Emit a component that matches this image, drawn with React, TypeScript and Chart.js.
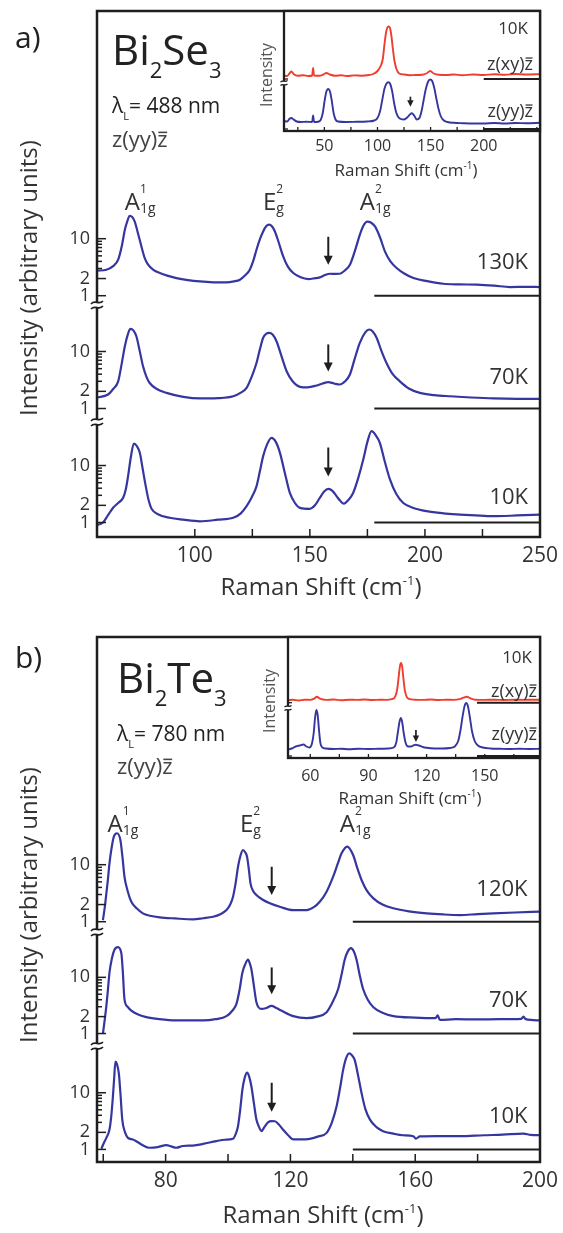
import React, { useEffect, useRef } from 'react';
import { Chart, registerables } from 'chart.js';

Chart.register(...registerables);

type Pt = [number, number];

const FONT = '"Open Sans", "Noto Sans", "DejaVu Sans", sans-serif';
const BLUE = '#3636a0';
const RED = '#ef3d2e';
const INK = '#1e1e1e';
const GREY = '#333333';

// ---------- shared tick values ----------
const logTicks = [1, 2, 3, 4, 5, 6, 7, 8, 9, 10];
const logLabels = [1, 2, 10];

// ---------- panel a : Bi2Se3 ----------
const seXTicks = [100, 125, 150, 175, 200, 225, 250];
const seXLabels = [100, 150, 200, 250];
const seTemps = ['130K', '70K', '10K'];
const seBase = [178, 250];
const seArrowX = 158;
const seArrows: Pt[] = [[10.8, 3.5], [13.3, 4.46], [20.7, 6.4]];
const seTempY = [3.75, 3.43, 2.69];
const sePeakX = [69.6, 129.6, 171.7];

const se130: Pt[] = [
  [57.5, 2.75], [61.6, 2.86], [64.5, 3.3], [66.7, 4.28], [68.3, 7.5], [69.6, 14.4], [70.8, 21], [71.7, 25.3],
  [72.8, 24], [73.9, 20], [75.3, 12.5], [76.8, 7.3], [78.2, 4.6], [79.7, 3.5], [82, 2.85], [84.8, 2.5],
  [88, 2.25], [92, 2.04], [97, 1.88], [102.2, 1.78], [108, 1.72], [113.8, 1.71], [117, 1.78], [119.6, 1.91],
  [122, 2.3], [123.9, 2.86], [125.5, 4.2], [126.8, 6.4], [128.3, 9.8], [129.7, 13.4], [131, 16.5], [132.3, 17.6],
  [133.5, 16.5], [134.8, 13.4], [136.5, 8.5], [138.4, 4.9], [140.5, 3.2], [142.8, 2.5], [146, 2.1], [149.3, 1.96],
  [152, 2.02], [154.3, 2.1], [156.5, 2.3], [158.7, 2.43], [161, 2.42], [163, 2.43], [165.3, 2.8], [167.4, 3.5],
  [169.5, 6], [171.7, 11.7], [173.3, 17], [174.9, 20], [176.5, 19.2], [178.3, 16.4], [180.5, 10.5], [182.6, 6],
  [185, 4], [187.7, 3.06], [191, 2.45], [195, 2.04], [201, 1.8], [208, 1.62], [215, 1.58], [222.5, 1.56],
  [230, 1.5], [237, 1.42], [244, 1.43], [250, 1.42],
];
const se70: Pt[] = [
  [57.5, 1.55], [62.3, 1.76], [64.5, 2.2], [66.7, 3.0], [68.2, 6], [69.6, 12.4], [70.9, 20], [72, 25],
  [73.3, 23.5], [74.6, 18.5], [76, 10.5], [77.5, 5.5], [79, 3.6], [80.4, 2.8], [83.5, 2.2], [87.7, 1.88],
  [95, 1.6], [102.2, 1.5], [110, 1.52], [116.7, 1.64], [120, 1.9], [122.5, 2.3], [124.7, 3.6], [126.8, 6.3],
  [128.3, 11], [129.7, 17.4], [131, 20.5], [132.3, 21.3], [133.8, 19.8], [135.5, 15.1], [137.7, 8.2], [139.9, 4.5],
  [142.5, 3.0], [145.7, 2.4], [149, 2.35], [152.9, 2.53], [155.5, 2.75], [158, 2.9], [160.5, 2.75], [163, 2.64],
  [165.3, 3.0], [167.4, 3.95], [169.5, 7.5], [171.7, 14.2], [174, 21.5], [175.8, 24.3], [177.3, 22.5], [179, 17.4],
  [181, 10.5], [183.3, 6.3], [186, 4.0], [189.1, 3.0], [193, 2.25], [197.8, 1.88], [204, 1.72], [210.9, 1.64],
  [220, 1.56], [229.7, 1.5], [240, 1.48], [250, 1.48],
];
const se10: Pt[] = [
  [57.5, 0.9], [60.1, 1.0], [62.3, 1.35], [64.5, 1.81], [66.7, 2.2], [68.8, 2.7], [70, 3.8], [71, 6.5],
  [72.2, 14], [73.5, 24.3], [74.8, 22], [76.1, 16.7], [77.4, 8.5], [78.7, 4.3], [80, 2.4], [81.2, 1.74],
  [84, 1.4], [89.1, 1.21], [95, 1.12], [102.2, 1.05], [110, 1.12], [116.7, 1.21], [120, 1.45], [122.5, 1.93],
  [124.8, 2.8], [126.8, 4.3], [128.3, 8], [129.7, 14.6], [131.5, 24], [133.3, 30.6], [135.2, 26], [137, 16.7],
  [139.2, 7.2], [141.3, 3.3], [143.5, 2.2], [145.7, 1.81], [150, 1.74], [152.2, 2.0], [154.3, 2.7], [156.2, 3.5],
  [158, 3.9], [159.8, 3.6], [161.6, 2.9], [163.2, 2.4], [164.8, 2.15], [166.8, 2.5], [168.8, 3.3], [171, 6],
  [173.2, 12.7], [175, 26], [176.8, 40], [178.6, 34], [180.4, 25], [182.6, 11.5], [184.8, 5.7], [187.5, 3.2],
  [190.6, 2.2], [195, 1.8], [200.7, 1.58], [208, 1.45], [215.2, 1.38], [222, 1.33], [229.7, 1.29], [240, 1.33],
  [250, 1.38],
];

// ---------- panel b : Bi2Te3 ----------
const teXTicks = [60, 80, 100, 120, 140, 160, 180, 200];
const teXLabels = [80, 120, 160, 200];
const teTemps = ['120K', '70K', '10K'];
const teBase = [140, 200];
const teArrowX = 114;
const teArrows: Pt[] = [[9.2, 2.94], [15, 5.0], [15, 4.6]];
const teTempY = [3.6, 3.84, 3.84];
const tePeakX = [61.4, 103.8, 135.8];

const te120: Pt[] = [
  [59.9, 1.07], [60.5, 1.8], [61, 3.15], [61.5, 5.5], [62, 10.6], [62.7, 20], [63.4, 31], [64.4, 35.6],
  [65.5, 27], [66.2, 13], [66.8, 6.2], [67.8, 3.5], [69, 2.24], [70.8, 1.7], [72.7, 1.4], [75, 1.27],
  [78.1, 1.19], [83, 1.14], [88.8, 1.1], [92, 1.15], [95.2, 1.22], [97.5, 1.35], [99.5, 1.6], [100.7, 2.0],
  [101.6, 2.75], [102.5, 5], [103.2, 9.2], [104, 14.5], [104.8, 18.1], [105.5, 16.5], [106.1, 13.8], [106.7, 8],
  [107.2, 4.7], [108, 3.5], [109.1, 2.94], [111, 2.45], [113.4, 2.1], [116.6, 1.83], [120.9, 1.6], [125.2, 1.6],
  [127.5, 1.8], [129.4, 2.24], [131.5, 3.3], [133.7, 6.2], [135.2, 10.5], [136.4, 15.8], [138.2, 20.8], [140.1, 14.8],
  [141.5, 8.5], [142.8, 5.4], [144.5, 3.5], [146.6, 2.57], [149.5, 2.0], [153, 1.72], [158, 1.52], [163.7, 1.4],
  [169, 1.34], [174.3, 1.31], [180, 1.36], [185, 1.4], [192, 1.45], [200, 1.5],
];
const te70: Pt[] = [
  [59.9, 1.0], [60.5, 1.8], [61, 3.1], [61.5, 6], [62, 12.1], [62.8, 22], [63.6, 31], [64.7, 34.6],
  [65.8, 27], [66.3, 12], [66.8, 4.1], [67.8, 3.0], [69, 2.56], [71, 2.2], [73.8, 1.96], [78, 1.8],
  [83.4, 1.71], [92, 1.71], [96, 1.8], [99.5, 2.04], [101.5, 2.6], [102.7, 3.36], [103.7, 6], [104.6, 12.1],
  [105.5, 17], [106.4, 20.6], [107, 17.5], [107.5, 13.8], [108.3, 7], [109.1, 3.6], [110.7, 2.74], [112.3, 2.85],
  [113.9, 3.1], [115.5, 2.85], [117.1, 2.56], [120.9, 2.04], [125.2, 1.88], [128.5, 2.0], [131.6, 2.4], [133.5, 3.6],
  [135.3, 6.2], [136.5, 12], [137.4, 20.6], [138.4, 29], [139.4, 33], [140.3, 29], [141.2, 20.6], [142.2, 11],
  [143.3, 6.2], [144.8, 4], [146.6, 2.94], [149.5, 2.35], [153, 2.04], [160, 1.92], [166.5, 1.88], [167.2, 2.1],
  [167.9, 1.75], [173, 1.8], [179.7, 1.78], [187, 1.8], [194, 1.83], [194.7, 2.0], [195.4, 1.8], [200, 1.71],
];
const te10: Pt[] = [
  [59.4, 1.03], [60.2, 1.3], [61, 1.6], [62, 2.24], [62.6, 4], [63.1, 8.6], [63.5, 18], [63.9, 35.5],
  [64.4, 32], [65, 22], [65.5, 10], [66.1, 3.36], [67, 2.0], [67.9, 1.6], [69.5, 1.5], [71, 1.35],
  [72.5, 1.2], [74.8, 1.07], [77.5, 1.1], [80.2, 1.19], [82, 1.12], [83.4, 1.07], [85.5, 1.15], [88.7, 1.17],
  [92, 1.25], [96.2, 1.4], [99, 1.48], [101.6, 1.54], [102.5, 1.9], [103.2, 2.56], [103.9, 5], [104.6, 11.3],
  [105.3, 18], [106.1, 22.6], [106.8, 19], [107.5, 12.9], [108.3, 6.5], [109.1, 3.36], [110, 2.45], [110.7, 2.1],
  [111.7, 2.5], [112.8, 3.0], [114, 3.15], [115, 3.14], [116.3, 2.75], [117.6, 2.24], [119.2, 1.8], [120.9, 1.5],
  [123.5, 1.5], [126.2, 1.54], [129, 1.7], [131.6, 1.96], [133.3, 3], [134.8, 5.75], [135.9, 12], [136.9, 25.3],
  [137.8, 40], [138.8, 49.6], [139.7, 46], [140.6, 38], [141.7, 20], [142.8, 9.9], [144, 5.2], [145.5, 3.36],
  [147.5, 2.5], [149.7, 2.1], [153, 1.9], [156, 1.78], [159.4, 1.71], [160.2, 1.55], [161.5, 1.7], [167, 1.72],
  [174.3, 1.71], [182, 1.78], [188, 1.82], [194.7, 1.9], [197, 1.8], [200, 1.78],
];

// ---------- inset a (Bi2Se3, 10K) ----------
const inSeXTicks = [25, 50, 75, 100, 125, 150, 175, 200, 225, 250];
const inSeXLabels = [50, 100, 150, 200];
const inSeBase = [200, 253];
const inSeArrow = [131, 3.23, 2.23];
const inSeXY: Pt[] = [
  [12, 0.35], [15, 0.3], [17.5, 0.6], [19, 0.75], [21, 0.5], [25, 0.32], [30, 0.38], [35, 0.3],
  [38.5, 0.35], [39.4, 1.1], [40.3, 0.35], [45, 0.33], [49, 0.45], [52, 0.6], [55, 0.45], [60, 0.33],
  [66, 0.38], [71, 0.3], [78, 0.36], [85, 0.33], [92, 0.4], [96, 0.5], [100, 0.8], [103, 1.3],
  [105, 2.0], [106.5, 3.4], [108, 4.6], [109.3, 5.15], [110.5, 5.25], [111.8, 5.1], [113, 4.4], [114.5, 3.0],
  [116, 1.8], [118, 0.95], [120.5, 0.55], [125, 0.45], [130, 0.38], [136, 0.4], [142, 0.42], [146, 0.55],
  [149.7, 0.8], [153, 0.55], [158, 0.42], [165, 0.4], [172, 0.45], [180, 0.38], [190, 0.45], [200, 0.4],
  [210, 0.48], [220, 0.42], [230, 0.5], [240, 0.45], [253, 0.48],
];
const inSeYY: Pt[] = [
  [12, 0.8], [15, 0.75], [17, 1.0], [19, 1.1], [21, 0.95], [24, 0.75], [28, 0.7], [33, 0.72],
  [38.5, 0.7], [39.4, 1.35], [40.3, 0.7], [44, 0.72], [46.5, 0.9], [48.5, 1.6], [50.2, 2.8], [51.8, 3.7],
  [53.6, 4.0], [55.4, 3.7], [57, 2.8], [58.7, 1.6], [60.5, 0.95], [63, 0.75], [70, 0.7], [80, 0.72],
  [90, 0.75], [97, 0.85], [100, 1.1], [102.5, 1.8], [104.5, 2.9], [106.5, 4.0], [108.5, 4.55], [110.3, 4.67],
  [112, 4.5], [113.8, 3.8], [115.5, 2.7], [117.5, 1.7], [119.5, 1.2], [122, 1.0], [125, 0.95], [128, 1.15],
  [130.5, 1.45], [132.4, 1.57], [134.5, 1.35], [137, 0.95], [139.5, 1.1], [141.5, 1.8], [143.5, 2.9], [145.5, 4.0],
  [147.5, 4.7], [149.5, 4.95], [151.5, 4.8], [153.5, 4.1], [155.5, 3.0], [157.5, 2.0], [159.5, 1.3], [162, 0.9],
  [166, 0.7], [172, 0.62], [180, 0.58], [190, 0.55], [200, 0.55], [210, 0.6], [220, 0.55], [230, 0.6],
  [240, 0.58], [253, 0.62],
];

// ---------- inset b (Bi2Te3, 10K) ----------
const inTeXTicks = [60, 75, 90, 105, 120, 135, 150, 165];
const inTeXLabels = [60, 90, 120, 150];
const inTeBase = [146, 178.5];
const inTeArrow = [114.5, 2.6, 1.4];
const inTeXY: Pt[] = [
  [48.5, 0.25], [51, 0.3], [54, 0.22], [57, 0.3], [60, 0.28], [62, 0.4], [63.4, 0.6], [65, 0.4],
  [68, 0.28], [72, 0.32], [76, 0.25], [80, 0.3], [84, 0.28], [88, 0.32], [92, 0.27], [96, 0.3],
  [99, 0.28], [102, 0.35], [103.8, 0.6], [104.8, 1.3], [105.6, 2.6], [106.3, 3.7], [106.8, 3.97], [107.4, 3.6],
  [108, 2.5], [108.8, 1.2], [109.8, 0.55], [111, 0.38], [114, 0.3], [118, 0.28], [122, 0.32], [126, 0.27],
  [130, 0.3], [134, 0.28], [137, 0.35], [139, 0.5], [140.8, 0.6], [142.5, 0.45], [145, 0.3], [150, 0.28],
  [155, 0.3], [160, 0.27], [165, 0.3], [170, 0.28], [175, 0.3], [178.5, 0.28],
];
const inTeYY: Pt[] = [
  [48.5, 0.65], [50.5, 0.75], [52.5, 0.95], [54.5, 1.05], [56.5, 1.15], [58, 0.95], [59.5, 0.85], [60.8, 1.2],
  [61.7, 2.2], [62.4, 3.7], [63.1, 4.6], [63.8, 4.1], [64.5, 2.6], [65.2, 1.3], [66.2, 0.85], [68, 0.75],
  [72, 0.7], [76, 0.72], [80, 0.68], [85, 0.72], [90, 0.7], [95, 0.72], [100, 0.75], [103, 0.85],
  [104.3, 1.3], [105.2, 2.4], [106, 3.4], [106.7, 3.8], [107.4, 3.4], [108.2, 2.3], [109.2, 1.3], [110.5, 0.95],
  [112, 0.95], [113.5, 1.08], [114.5, 1.12], [116, 1.05], [118, 0.9], [120, 0.82], [124, 0.75], [128, 0.75],
  [132, 0.8], [134.5, 0.95], [136.3, 1.5], [137.5, 2.6], [138.6, 4.0], [139.6, 5.0], [140.4, 5.3], [141.3, 5.0],
  [142.3, 3.9], [143.4, 2.5], [144.8, 1.5], [146.5, 1.05], [149, 0.85], [153, 0.75], [158, 0.72], [163, 0.7],
  [168, 0.72], [173, 0.7], [178.5, 0.72],
];

// ---------- helpers ----------
const toXY = (d: Pt[]) => d.map(([x, y]) => ({ x, y }));

type Run = { t: string; s: number; dy?: number; bar?: boolean; stay?: boolean };

function drawRuns(ctx: CanvasRenderingContext2D, x: number, y: number, list: Run[], align: string = 'left') {
  const widths = list.map((r) => {
    ctx.font = `${r.s}px ${FONT}`;
    return r.stay ? 0 : ctx.measureText(r.t).width;
  });
  const total = widths.reduce((a, b) => a + b, 0);
  let cx = align === 'left' ? x : align === 'center' ? x - total / 2 : x - total;
  ctx.textAlign = 'left';
  ctx.textBaseline = 'alphabetic';
  list.forEach((r, i) => {
    ctx.font = `${r.s}px ${FONT}`;
    const yy = y + (r.dy || 0);
    ctx.fillText(r.t, cx, yy);
    if (r.bar) {
      const mw = ctx.measureText(r.t).width;
      ctx.fillRect(cx + 1, yy - r.s * 0.7, mw - 1.5, Math.max(1.2, r.s * 0.07));
    }
    cx += widths[i];
  });
}

function seg(ctx: CanvasRenderingContext2D, x1: number, y1: number, x2: number, y2: number) {
  ctx.beginPath();
  ctx.moveTo(x1, y1);
  ctx.lineTo(x2, y2);
  ctx.stroke();
}

function drawBreak(ctx: CanvasRenderingContext2D, x: number, y: number, half: number, gap: number, lw: number) {
  ctx.save();
  ctx.fillStyle = '#ffffff';
  ctx.fillRect(x - half, y - gap, half * 2, gap * 2);
  ctx.strokeStyle = INK;
  ctx.lineWidth = lw;
  [-gap, gap].forEach((off) => {
    ctx.beginPath();
    ctx.moveTo(x - half, y + off + half * 0.25);
    ctx.bezierCurveTo(x - half / 3, y + off - half * 0.55, x + half / 3, y + off + half * 0.55, x + half, y + off - half * 0.25);
    ctx.stroke();
  });
  ctx.restore();
}

function drawArrow(ctx: CanvasRenderingContext2D, x: number, yTop: number, yTip: number, hw: number, hl: number, lw: number) {
  ctx.save();
  ctx.strokeStyle = INK;
  ctx.fillStyle = INK;
  ctx.lineWidth = lw;
  seg(ctx, x, yTop, x, yTip - hl + 1);
  ctx.beginPath();
  ctx.moveTo(x - hw, yTip - hl);
  ctx.lineTo(x + hw, yTip - hl);
  ctx.lineTo(x, yTip);
  ctx.closePath();
  ctx.fill();
  ctx.restore();
}

const geometry = (s: number): Run[] => [{ t: 'z(yy)', s }, { t: 'z', s, bar: true }];

// ---------- main panel ----------
function mainDeco(s: any) {
  return {
    id: 'mainDeco',
    afterDraw(chart: any) {
      const { ctx, chartArea: ca, scales } = chart;
      const xs = scales.x;
      ctx.save();
      ctx.strokeStyle = INK;
      ctx.lineWidth = 1.5;
      xs.ticks.forEach((t: any) => {
        const px = xs.getPixelForValue(t.value);
        seg(ctx, px, ca.bottom, px, ca.bottom - 8);
      });
      s.series.forEach((_: any, i: number) => {
        const ys = scales['y' + i];
        ys.ticks.forEach((t: any) => {
          const py = ys.getPixelForValue(t.value);
          const major = logLabels.includes(t.value);
          seg(ctx, ca.left, py, ca.left + (major ? 9 : 5), py);
        });
      });
      ctx.lineWidth = 2.5;
      ctx.strokeRect(ca.left, ca.top, ca.right - ca.left, ca.bottom - ca.top);
      s.series.forEach((_: any, i: number) => {
        if (i > 0) drawBreak(ctx, ca.left, scales['y' + i].top, 6, 2.6, 1.6);
      });
      s.arrows.forEach(([top, tip]: Pt, i: number) => {
        const ys = scales['y' + i];
        drawArrow(ctx, xs.getPixelForValue(s.arrowX), ys.getPixelForValue(top), ys.getPixelForValue(tip), 4.5, 9, 2);
      });
      ctx.fillStyle = GREY;
      ctx.font = `22px ${FONT}`;
      ctx.textAlign = 'right';
      ctx.textBaseline = 'middle';
      s.temps.forEach((t: string, i: number) => {
        ctx.fillText(t, xs.getPixelForValue(s.tempX), scales['y' + i].getPixelForValue(s.tempY[i]));
      });
      const pb = ca.top + s.peakBase;
      const peakRuns: Run[][] = [
        [{ t: 'A', s: 24 }, { t: '1', s: 12, dy: -17, stay: true }, { t: '1g', s: 14, dy: 3 }],
        [{ t: 'E', s: 24 }, { t: '2', s: 12, dy: -17, stay: true }, { t: 'g', s: 14, dy: 3 }],
        [{ t: 'A', s: 24 }, { t: '2', s: 12, dy: -17, stay: true }, { t: '1g', s: 14, dy: 3 }],
      ];
      peakRuns.forEach((r, i) => drawRuns(ctx, xs.getPixelForValue(s.peakX[i]), pb, r));
      ctx.fillStyle = '#222222';
      ctx.font = `30px ${FONT}`;
      ctx.textAlign = 'left';
      ctx.textBaseline = 'alphabetic';
      ctx.fillText(s.tag, s.tagPos[0], s.tagPos[1]);
      drawRuns(ctx, s.cmpPos[0], s.cmpPos[1], [
        { t: 'Bi', s: 42 }, { t: '2', s: 22, dy: 13 }, { t: s.cmp, s: 42 }, { t: '3', s: 22, dy: 13 },
      ]);
      drawRuns(ctx, s.laserPos[0], s.laserPos[1], [{ t: 'λ', s: 21 }, { t: 'L', s: 11, dy: 7 }, { t: s.laser, s: 21 }]);
      ctx.fillStyle = '#444444';
      drawRuns(ctx, s.geomPos[0], s.geomPos[1], geometry(22));
      ctx.fillStyle = GREY;
      drawRuns(ctx, s.xTitle[0], s.xTitle[1], [
        { t: 'Raman Shift (cm', s: 24 }, { t: '-1', s: 13, dy: -10 }, { t: ')', s: 24 },
      ], 'center');
      ctx.save();
      ctx.translate(s.yTitle[0], s.yTitle[1]);
      ctx.rotate(-Math.PI / 2);
      ctx.font = `24px ${FONT}`;
      ctx.textAlign = 'center';
      ctx.textBaseline = 'middle';
      ctx.fillText('Intensity (arbitrary units)', 0, 0);
      ctx.restore();
      ctx.restore();
    },
  };
}

function buildMain(s: any) {
  const scales: any = {
    x: {
      type: 'linear', position: 'bottom', min: s.xMin, max: s.xMax,
      grid: { display: false, drawTicks: false }, border: { display: false },
      afterBuildTicks: (sc: any) => { sc.ticks = s.xTicks.map((v: number) => ({ value: v })); },
      ticks: {
        autoSkip: false, maxRotation: 0, padding: 6, color: GREY, font: { family: FONT, size: 21 },
        callback: (v: number) => (s.xLabels.includes(v) ? String(v) : ''),
      },
      afterFit: (sc: any) => { sc.height = s.xHeight; sc.paddingLeft = 0; sc.paddingRight = 0; },
    },
  };
  const datasets: any[] = [];
  // stacked left axes are laid out last-defined on top, so define bottom panel first
  for (let i = s.series.length - 1; i >= 0; i--) {
    scales['y' + i] = {
      type: 'logarithmic', position: 'left', stack: 'spectra', stackWeight: s.weights[i],
      min: s.mins[i], max: s.maxs[i],
      grid: { display: false, drawTicks: false }, border: { display: false },
      afterBuildTicks: (sc: any) => { sc.ticks = logTicks.map((v) => ({ value: v })); },
      ticks: {
        autoSkip: false, padding: 7, color: GREY, font: { family: FONT, size: 18 },
        callback: (v: number) => (logLabels.includes(v) ? String(v) : ''),
      },
      afterFit: (sc: any) => { sc.width = 97; sc.paddingTop = 0; sc.paddingBottom = 0; },
    };
  }
  s.series.forEach((d: Pt[], i: number) => {
    const id = 'y' + i;
    datasets.push({
      data: toXY(d), yAxisID: id, xAxisID: 'x', borderColor: BLUE, borderWidth: 2.2,
      pointRadius: 0, cubicInterpolationMode: 'monotone', fill: false, clip: false,
    });
    datasets.push({
      data: s.base.map((x: number) => ({ x, y: 1 })), yAxisID: id, xAxisID: 'x',
      borderColor: INK, borderWidth: 2, pointRadius: 0, fill: false, clip: false,
    });
  });
  return {
    type: 'line',
    data: { datasets },
    options: {
      responsive: false, animation: false, devicePixelRatio: 1, events: [],
      layout: { padding: { left: 0, top: s.padTop, right: 23, bottom: 0 } },
      plugins: { legend: { display: false }, tooltip: { enabled: false }, title: { display: false } },
      scales,
    },
    plugins: [mainDeco(s)],
  };
}

// ---------- inset ----------
function insetDeco(s: any) {
  return {
    id: 'insetDeco',
    beforeDraw(chart: any) {
      const { ctx, chartArea: ca } = chart;
      ctx.save();
      ctx.fillStyle = '#ffffff';
      ctx.fillRect(ca.left, ca.top, ca.right - ca.left, ca.bottom - ca.top);
      ctx.restore();
    },
    afterDraw(chart: any) {
      const { ctx, chartArea: ca, scales } = chart;
      const xs = scales.x;
      ctx.save();
      ctx.strokeStyle = INK;
      ctx.lineWidth = 1.3;
      xs.ticks.forEach((t: any) => {
        const px = xs.getPixelForValue(t.value);
        seg(ctx, px, ca.bottom, px, ca.bottom - 4);
      });
      ['y0', 'y1'].forEach((id) => {
        const py = scales[id].getPixelForValue(0);
        seg(ctx, ca.left, py, ca.left + 4, py);
      });
      ctx.lineWidth = 2.3;
      ctx.strokeRect(ca.left, ca.top, ca.right - ca.left, ca.bottom - ca.top);
      drawBreak(ctx, ca.left, scales.y1.top, 3.5, 1.8, 1.2);
      const [ax, aTop, aTip] = s.arrow;
      drawArrow(ctx, xs.getPixelForValue(ax), scales.y1.getPixelForValue(aTop), scales.y1.getPixelForValue(aTip), 3.2, 6.5, 1.7);
      ctx.fillStyle = GREY;
      ctx.font = `17px ${FONT}`;
      ctx.textAlign = 'right';
      ctx.textBaseline = 'middle';
      ctx.fillText('10K', s.kPos[0], s.kPos[1]);
      drawRuns(ctx, s.xyPos[0], s.xyPos[1], [{ t: 'z(xy)', s: 18 }, { t: 'z', s: 18, bar: true }], 'right');
      drawRuns(ctx, s.yyPos[0], s.yyPos[1], geometry(18), 'right');
      drawRuns(ctx, s.title[0], s.title[1], [
        { t: 'Raman Shift (cm', s: 17 }, { t: '-1', s: 10, dy: -7 }, { t: ')', s: 17 },
      ], 'center');
      ctx.save();
      ctx.fillStyle = '#555555';
      ctx.translate(s.intPos[0], s.intPos[1]);
      ctx.rotate(-Math.PI / 2);
      ctx.font = `16px ${FONT}`;
      ctx.textAlign = 'center';
      ctx.textBaseline = 'middle';
      ctx.fillText('Intensity', 0, 0);
      ctx.restore();
      ctx.restore();
    },
  };
}

function buildInset(s: any) {
  const yAxis = (i: number) => ({
    type: 'linear', position: 'left', stack: 'inset', stackWeight: s.weights[i],
    min: s.mins[i], max: s.maxs[i],
    grid: { display: false, drawTicks: false }, border: { display: false },
    afterBuildTicks: (sc: any) => { sc.ticks = [{ value: 0 }]; },
    ticks: { display: false },
    afterFit: (sc: any) => { sc.width = s.yWidth; sc.paddingTop = 0; sc.paddingBottom = 0; },
  });
  const line = (d: any[], id: string, color: string, w: number, smooth: boolean) => ({
    data: d, yAxisID: id, xAxisID: 'x', borderColor: color, borderWidth: w, pointRadius: 0,
    cubicInterpolationMode: smooth ? 'monotone' : 'default', fill: false, clip: false,
  });
  const base = s.base.map((x: number) => ({ x, y: 0 }));
  return {
    type: 'line',
    data: {
      datasets: [
        line(toXY(s.xy), 'y0', RED, 1.9, true),
        line(toXY(s.yy), 'y1', BLUE, 1.9, true),
        line(base, 'y0', INK, 2, false),
        line(base, 'y1', INK, 2, false),
      ],
    },
    options: {
      responsive: false, animation: false, devicePixelRatio: 1, events: [],
      layout: { padding: { left: 0, top: s.padTop, right: 23, bottom: 0 } },
      plugins: { legend: { display: false }, tooltip: { enabled: false }, title: { display: false } },
      scales: {
        x: {
          type: 'linear', position: 'bottom', min: s.xMin, max: s.xMax,
          grid: { display: false, drawTicks: false }, border: { display: false },
          afterBuildTicks: (sc: any) => { sc.ticks = s.xTicks.map((v: number) => ({ value: v })); },
          ticks: {
            autoSkip: false, maxRotation: 0, padding: s.xPad, color: GREY, font: { family: FONT, size: 16 },
            callback: (v: number) => (s.xLabels.includes(v) ? String(v) : ''),
          },
          afterFit: (sc: any) => { sc.height = s.xHeight; sc.paddingLeft = 0; sc.paddingRight = 0; },
        },
        // bottom panel defined first so that y0 (xy) ends up on top
        y1: yAxis(1),
        y0: yAxis(0),
      },
    },
    plugins: [insetDeco(s)],
  };
}

// ---------- specs (layout only) ----------
const specA = {
  padTop: 11, xHeight: 73, xMin: 57.5, xMax: 250, xTicks: seXTicks, xLabels: seXLabels,
  series: [se130, se70, se10], weights: [294, 117, 115], mins: [0.687, 0.58, 0.557], maxs: [98800, 65.4, 58],
  base: seBase, arrowX: seArrowX, arrows: seArrows, temps: seTemps, tempX: 244.8, tempY: seTempY,
  peakX: sePeakX, peakBase: 199, tag: 'a)', tagPos: [15, 48], cmp: 'Se', cmpPos: [112, 65],
  laser: '= 488 nm', laserPos: [112, 113], geomPos: [112, 147], xTitle: [321, 595], yTitle: [30, 278],
};
const specB = {
  padTop: 17, xHeight: 71, xMin: 58, xMax: 200, xTicks: teXTicks, xLabels: teXLabels,
  series: [te120, te70, te10], weights: [295, 114, 116], mins: [0.66, 0.641, 0.616], maxs: [98600, 64.1, 66.8],
  base: teBase, arrowX: teArrowX, arrows: teArrows, temps: teTemps, tempX: 196, tempY: teTempY,
  peakX: tePeakX, peakBase: 195, tag: 'b)', tagPos: [15, 48], cmp: 'Te', cmpPos: [117, 73],
  laser: '= 780 nm', laserPos: [117, 121], geomPos: [117, 154], xTitle: [323, 603], yTitle: [30, 285],
};
const specIA = {
  padTop: 11, xHeight: 54, yWidth: 34, xPad: 6, xMin: 12, xMax: 253, xTicks: inSeXTicks, xLabels: inSeXLabels,
  xy: inSeXY, yy: inSeYY, weights: [72, 48], mins: [-0.4, -0.2], maxs: [6.8, 4.6], base: inSeBase, arrow: inSeArrow,
  kPos: [278, 29], xyPos: [283, 70], yyPos: [283, 117], title: [156, 176], intPos: [17.5, 75],
};
const specIB = {
  padTop: 12, xHeight: 52, yWidth: 38, xPad: 9, xMin: 48.5, xMax: 178.5, xTicks: inTeXTicks, xLabels: inTeXLabels,
  xy: inTeXY, yy: inTeYY, weights: [71, 50], mins: [-0.53, -0.2], maxs: [6.57, 4.8], base: inTeBase, arrow: inTeArrow,
  kPos: [282, 33], xyPos: [287, 72], yyPos: [287, 115], title: [160, 179], intPos: [20, 76],
};

function useChart(build: () => any) {
  const ref = useRef<HTMLCanvasElement>(null);
  useEffect(() => {
    if (!ref.current) return;
    const chart = new Chart(ref.current, build());
    return () => chart.destroy();
  }, []);
  return ref;
}

export default function App() {
  const refA = useChart(() => buildMain(specA));
  const refB = useChart(() => buildMain(specB));
  const refIA = useChart(() => buildInset(specIA));
  const refIB = useChart(() => buildInset(specIB));
  const abs = (left: number, top: number): React.CSSProperties => ({ position: 'absolute', left, top });
  return (
    <div style={{ position: 'absolute', left: 0, top: 0, width: 563, height: 1233, background: '#ffffff', overflow: 'hidden' }}>
      <canvas ref={refA} width={563} height={610} style={abs(0, 0)} />
      <canvas ref={refB} width={563} height={613} style={abs(0, 620)} />
      <canvas ref={refIA} width={313} height={185} style={abs(250, 0)} />
      <canvas ref={refIB} width={313} height={185} style={abs(250, 625)} />
    </div>
  );
}
